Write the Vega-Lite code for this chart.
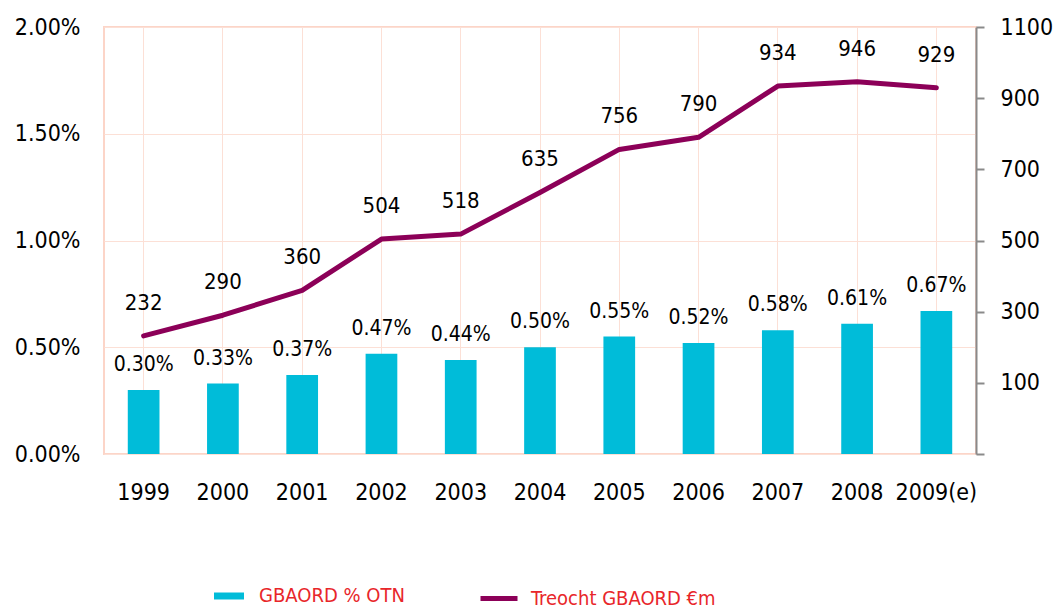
{
  "$schema": "https://vega.github.io/schema/vega-lite/v6.json",
  "width": 872,
  "height": 427,
  "autosize": "none",
  "padding": {"left": 104, "top": 27, "right": 81, "bottom": 156},
  "background": "white",
  "config": {
    "font": "DejaVu Sans Condensed",
    "view": {"stroke": "#FCD5C8", "strokeWidth": 2}
  },
  "data": {
    "values": [
      {"year": "1999", "pct": 0.0030, "val": 232},
      {"year": "2000", "pct": 0.0033, "val": 290},
      {"year": "2001", "pct": 0.0037, "val": 360},
      {"year": "2002", "pct": 0.0047, "val": 504},
      {"year": "2003", "pct": 0.0044, "val": 518},
      {"year": "2004", "pct": 0.0050, "val": 635},
      {"year": "2005", "pct": 0.0055, "val": 756},
      {"year": "2006", "pct": 0.0052, "val": 790},
      {"year": "2007", "pct": 0.0058, "val": 934},
      {"year": "2008", "pct": 0.0061, "val": 946},
      {"year": "2009(e)", "pct": 0.0067, "val": 929}
    ]
  },
  "encoding": {
    "x": {
      "field": "year",
      "type": "ordinal",
      "sort": null,
      "scale": {"paddingInner": 0, "paddingOuter": 0},
      "axis": {
        "title": null,
        "domain": false,
        "ticks": false,
        "grid": true,
        "gridColor": "#FCE0D6",
        "gridWidth": 1,
        "labelAngle": 0,
        "labelFontSize": 23,
        "labelPadding": 27,
        "labelColor": "#000000"
      }
    }
  },
  "layer": [
    {
      "encoding": {
        "y": {
          "field": "pct",
          "type": "quantitative",
          "scale": {"domain": [0, 0.02], "nice": false},
          "axis": {
            "orient": "left",
            "format": ".2%",
            "values": [0, 0.005, 0.01, 0.015, 0.02],
            "title": null,
            "domain": false,
            "ticks": false,
            "grid": true,
            "gridColor": "#FCE0D6",
            "labelFontSize": 23,
            "labelPadding": 24,
            "labelColor": "#000000"
          }
        }
      },
      "layer": [
        {
          "mark": {"type": "bar", "width": {"band": 0.4}},
          "encoding": {
            "fill": {
              "datum": "GBAORD % OTN",
              "type": "nominal",
              "scale": {"range": ["#00BCD9"]},
              "legend": {
                "title": null,
                "orient": "none",
                "legendX": 110,
                "legendY": 554,
                "padding": 0,
                "symbolType": "M-1,-0.233H1V0.233H-1Z",
                "symbolSize": 900,
                "symbolStrokeWidth": 0,
                "labelOffset": 15,
                "labelLimit": 0,
                "labelFontSize": 20,
                "labelColor": "#E8262A",
                "labelFont": "DejaVu Sans Condensed"
              }
            }
          }
        },
        {
          "mark": {"type": "text", "dy": -25, "baseline": "middle", "fontSize": 21, "color": "#000000"},
          "encoding": {
            "text": {"field": "pct", "type": "quantitative", "format": ".2%"}
          }
        }
      ]
    },
    {
      "encoding": {
        "y": {
          "field": "val",
          "type": "quantitative",
          "scale": {"domain": [-100, 1100], "nice": false, "zero": false},
          "axis": {
            "orient": "right",
            "values": [-100, 100, 300, 500, 700, 900, 1100],
            "format": "d",
            "labelExpr": "datum.value < 0 ? '' : datum.label",
            "title": null,
            "grid": false,
            "domainColor": "#8A8A8A",
            "domainWidth": 2,
            "tickColor": "#8A8A8A",
            "tickSize": 8,
            "tickWidth": 2,
            "labelFontSize": 23,
            "labelPadding": 16,
            "labelColor": "#000000"
          }
        }
      },
      "layer": [
        {
          "mark": {"type": "line", "strokeWidth": 5, "strokeCap": "round", "strokeJoin": "round"},
          "encoding": {
            "stroke": {
              "datum": "Treocht GBAORD €m",
              "type": "nominal",
              "scale": {"range": ["#8C0058"]},
              "legend": {
                "title": null,
                "orient": "none",
                "legendX": 374,
                "legendY": 550.5,
                "padding": 0,
                "symbolType": "stroke",
                "symbolSize": 1369,
                "symbolStrokeWidth": 5,
                "labelOffset": 11,
                "labelLimit": 0,
                "labelFontSize": 20,
                "labelColor": "#E8262A",
                "labelFont": "DejaVu Sans Condensed"
              }
            }
          }
        },
        {
          "mark": {"type": "text", "dy": -33, "baseline": "middle", "fontSize": 22, "color": "#000000"},
          "encoding": {
            "text": {"field": "val", "type": "quantitative"}
          }
        }
      ]
    }
  ],
  "resolve": {"scale": {"y": "independent"}, "axis": {"y": "independent"}}
}
